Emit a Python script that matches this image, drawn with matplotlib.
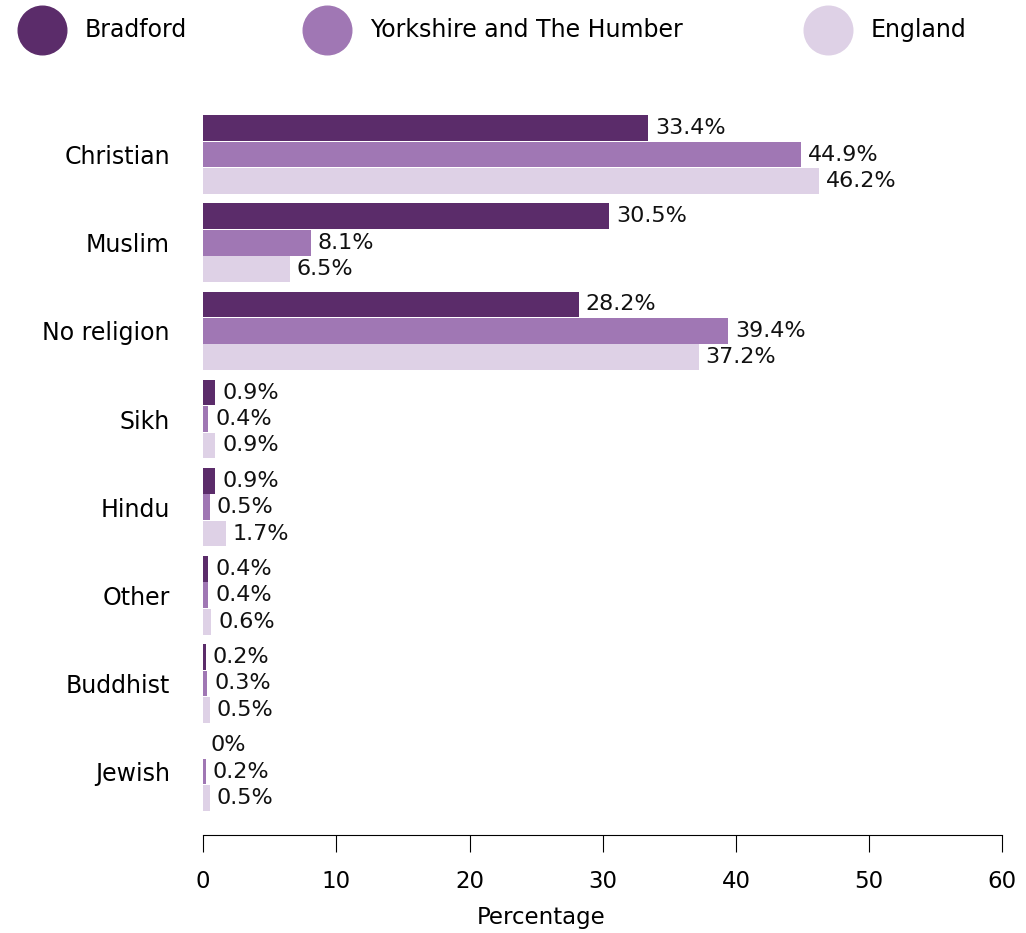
import numpy as np
import matplotlib
matplotlib.use("Agg")
import matplotlib.pyplot as plt
from matplotlib.lines import Line2D

categories = ["Christian", "Muslim", "No religion", "Sikh", "Hindu", "Other", "Buddhist", "Jewish"]
series_names = ["Bradford", "Yorkshire and The Humber", "England"]
bradford = [33.4, 30.5, 28.2, 0.9, 0.9, 0.4, 0.2, 0]
yorkshire = [44.9, 8.1, 39.4, 0.4, 0.5, 0.4, 0.3, 0.2]
england = [46.2, 6.5, 37.2, 0.9, 1.7, 0.6, 0.5, 0.5]
colors = ["#5b2c6a", "#a077b4", "#ded1e6"]

plt.rcParams['font.family'] = ['DejaVu Sans']

fig = plt.figure(figsize=(10.26, 9.33), dpi=100)
ax = fig.add_axes([0.198, 0.105, 0.779, 0.786])

y = np.arange(len(categories))
h = 0.3
for i, (vals, col) in enumerate(zip([bradford, yorkshire, england], colors)):
    pos = y + (i - 1) * h
    ax.barh(pos, vals, height=h * 0.97, color=col)
    for p, v in zip(pos, vals):
        ax.annotate(f"{v:g}%", (v, p), xytext=(5, 0), textcoords="offset points",
                    va="center", ha="left", fontsize=16, color="#111111")

ax.set_xlim(0, 60)
ax.set_ylim(7.72, -0.6)
ax.set_yticks(y)
ax.set_yticklabels(categories, fontsize=17)
ax.tick_params(axis="y", length=0, pad=24)
ax.set_xticks(range(0, 61, 10))
ax.tick_params(axis="x", labelsize=16.5, length=12, pad=13, width=0.8)
for s in ["top", "right", "left"]:
    ax.spines[s].set_visible(False)
ax.spines["bottom"].set_linewidth(0.8)
ax.set_xlabel("Percentage", fontsize=16.5)
ax.xaxis.set_label_coords(0.423, -0.097)

# legend along the top
leg_x = [42, 327, 828]
for name, col, lx in zip(series_names, colors, leg_x):
    fig.add_artist(Line2D([lx / 1026], [1 - 30 / 933], marker="o", markersize=35,
                          color=col, transform=fig.transFigure))
    fig.text((lx + 43) / 1026, 1 - 30 / 933, name, fontsize=17, va="center", ha="left")

fig.savefig("out.png", dpi=100)
